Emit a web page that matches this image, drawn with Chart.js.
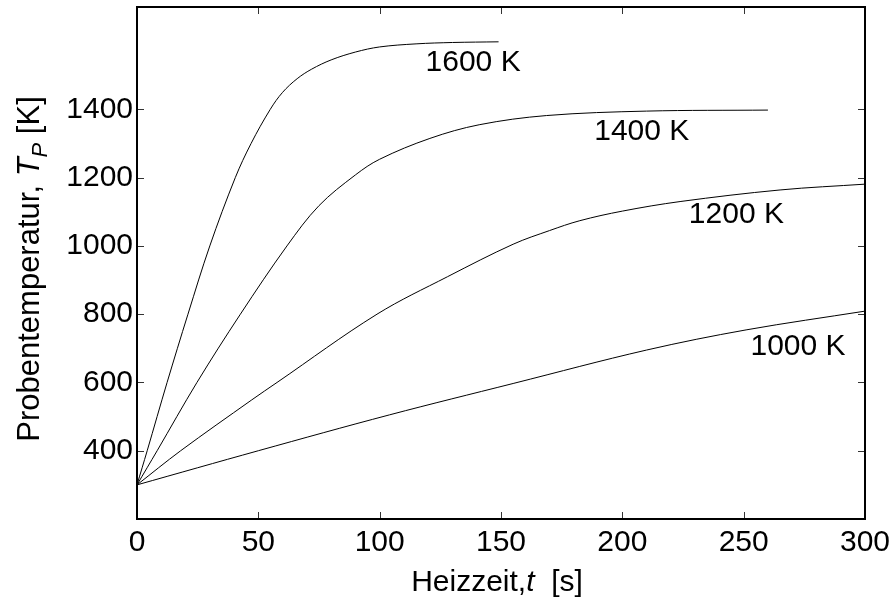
<!DOCTYPE html>
<html>
<head>
<meta charset="utf-8">
<script src="https://cdn.jsdelivr.net/npm/chart.js@4"></script>
<style>
  html, body { margin: 0; padding: 0; background: #fff; }
  canvas { display: block; }
</style>
</head>
<body>
<canvas id="myChart" width="893" height="606"></canvas>
<script>
// Heizkurven der Probe bei verschiedenen Ofentemperaturen
const time1600 = [0, 4.2, 12.4, 21, 30, 40.5, 47, 54.9, 60, 66, 72, 80, 90, 100, 115, 130, 149];
const temp1600 = [300, 400, 600, 800, 1000, 1200, 1300, 1400, 1450, 1490, 1518, 1545, 1568, 1583, 1592, 1596, 1598];

const time1400 = [0, 8.3, 24.7, 42.6, 61.8, 75, 90, 100, 120.7, 141, 168.8, 210, 260];
const temp1400 = [300, 400, 600, 800, 1000, 1118, 1208, 1254, 1315, 1355, 1382, 1395, 1398];

const time1200 = [0, 18, 47.3, 57.7, 98.9, 128, 155, 170, 182.5, 200, 223.8, 265, 300];
const temp1200 = [300, 400, 549, 600, 800, 910, 1005, 1045, 1074, 1102, 1130, 1164, 1181];

const time1000 = [0, 50, 104, 155, 210, 251, 300];
const temp1000 = [300, 400, 505, 597, 695, 754, 809];

const xTicks = [0, 50, 100, 150, 200, 250, 300];
const yTicks = [400, 600, 800, 1000, 1200, 1400];

// Beschriftung der Kurven: Text, t, T
const curveLabels = [
  ['1600 K', 138.5, 1536],
  ['1400 K', 208, 1335],
  ['1200 K', 247, 1091],
  ['1000 K', 272.4, 705]
];

const FONT = '"Liberation Sans", Arial, Helvetica, sans-serif';

function pts(t, T) {
  return t.map((v, i) => ({ x: v, y: T[i] }));
}

function line(t, T) {
  return {
    data: pts(t, T),
    borderColor: '#000',
    borderWidth: 1,
    pointRadius: 0,
    fill: false,
    tension: 0.35
  };
}

// Rahmen, nach innen zeigende Ticks, Achsentitel und Kurvenbeschriftung
const decorations = {
  id: 'decorations',
  afterDraw(chart) {
    const { ctx, chartArea: a, scales } = chart;
    const xs = scales.x, ys = scales.y;
    ctx.save();

    ctx.strokeStyle = '#333';
    ctx.lineWidth = 1;
    ctx.beginPath();
    xTicks.forEach(v => {
      const px = Math.round(xs.getPixelForValue(v)) + 0.5;
      ctx.moveTo(px, a.bottom); ctx.lineTo(px, a.bottom - 7);
      ctx.moveTo(px, a.top); ctx.lineTo(px, a.top + 7);
    });
    yTicks.forEach(v => {
      const py = Math.round(ys.getPixelForValue(v)) + 0.5;
      ctx.moveTo(a.left, py); ctx.lineTo(a.left + 7, py);
      ctx.moveTo(a.right, py); ctx.lineTo(a.right - 7, py);
    });
    ctx.stroke();

    ctx.strokeStyle = '#000';
    ctx.lineWidth = 2;
    ctx.strokeRect(a.left, a.top, a.right - a.left, a.bottom - a.top);

    ctx.fillStyle = '#000';
    ctx.textAlign = 'center';
    ctx.textBaseline = 'middle';
    ctx.font = '30px ' + FONT;
    curveLabels.forEach(([txt, t, T]) => {
      ctx.fillText(txt, xs.getPixelForValue(t), ys.getPixelForValue(T));
    });

    // x-Achsentitel
    const xParts = [
      ['Heizzeit,', '30px ' + FONT, 0],
      ['t', 'italic 30px ' + FONT, 0],
      ['  [s]', '30px ' + FONT, 0]
    ];
    drawParts(ctx, xParts, 497, 591);

    // y-Achsentitel, gedreht
    ctx.save();
    ctx.translate(39, 269);
    ctx.rotate(-Math.PI / 2);
    const yParts = [
      ['Probentemperatur, ', '31px ' + FONT, 0],
      ['T', 'italic 31px ' + FONT, 0],
      ['P', 'italic 22px ' + FONT, 8],
      [' [K]', '31px ' + FONT, 0]
    ];
    drawParts(ctx, yParts, 0, 0);
    ctx.restore();

    ctx.restore();
  }
};

function drawParts(ctx, parts, cx, baseline) {
  ctx.textAlign = 'left';
  ctx.textBaseline = 'alphabetic';
  let total = 0;
  parts.forEach(([s, f]) => { ctx.font = f; total += ctx.measureText(s).width; });
  let x = cx - total / 2;
  parts.forEach(([s, f, dy]) => {
    ctx.font = f;
    ctx.fillText(s, x, baseline + dy);
    x += ctx.measureText(s).width;
  });
}

const ctx = document.getElementById('myChart').getContext('2d');
const myChart = new Chart(ctx, {
  type: 'line',
  data: {
    datasets: [
      line(time1600, temp1600),
      line(time1400, temp1400),
      line(time1200, temp1200),
      line(time1000, temp1000)
    ]
  },
  options: {
    responsive: false,
    animation: false,
    devicePixelRatio: 1,
    layout: { padding: { top: 7, right: 28, left: 0, bottom: 0 } },
    plugins: {
      legend: { display: false },
      tooltip: { enabled: false }
    },
    scales: {
      x: {
        type: 'linear',
        min: 0,
        max: 300,
        afterBuildTicks: s => { s.ticks = xTicks.map(v => ({ value: v })); },
        afterFit: s => { s.height = 87; s.paddingLeft = 0; s.paddingRight = 0; },
        grid: { display: false, drawTicks: false },
        border: { display: false },
        ticks: {
          color: '#000',
          font: { family: FONT, size: 30 },
          padding: 6,
          maxRotation: 0
        }
      },
      y: {
        type: 'linear',
        min: 200,
        max: 1700,
        afterBuildTicks: s => { s.ticks = yTicks.map(v => ({ value: v })); },
        afterFit: s => { s.width = 137; s.paddingTop = 0; s.paddingBottom = 0; },
        grid: { display: false, drawTicks: false },
        border: { display: false },
        ticks: {
          color: '#000',
          font: { family: FONT, size: 30 },
          padding: 4,
          callback: v => String(v)
        }
      }
    }
  },
  plugins: [decorations]
});
</script>
</body>
</html>
